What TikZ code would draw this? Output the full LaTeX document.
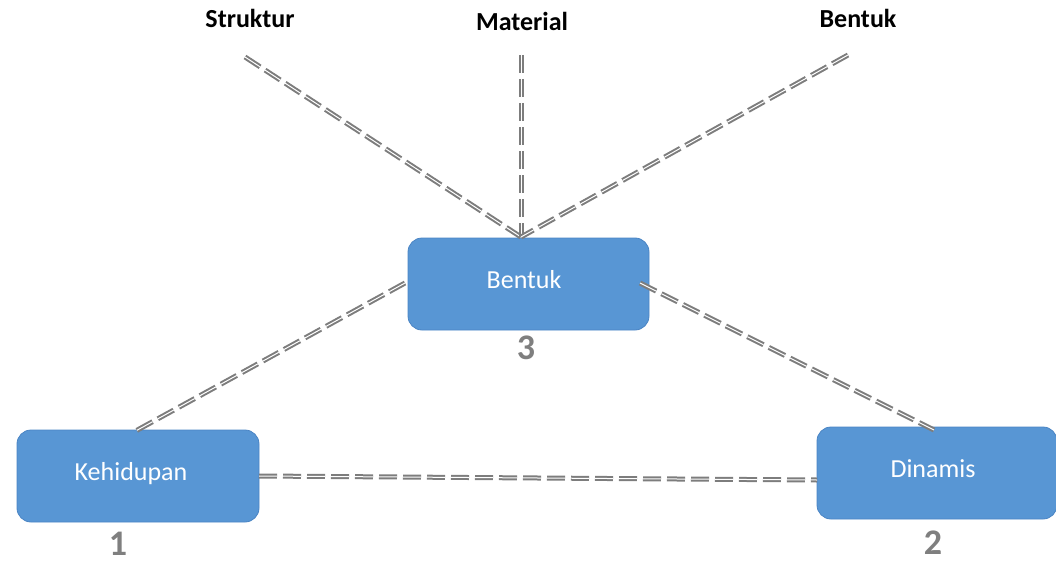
\documentclass[tikz,border=0pt]{standalone}
\usepackage{fontspec}
\setmainfont{Carlito}
\definecolor{boxblue}{RGB}{88,150,212}
\definecolor{boxedge}{RGB}{74,132,196}
\definecolor{linegray}{RGB}{125,125,125}
\definecolor{numgray}{RGB}{127,127,127}
\begin{document}
\begin{tikzpicture}[x=1pt,y=-1pt,
  conceptbox/.style={draw=boxedge, line width=0.8pt, fill=boxblue, rounded corners=14pt,
    minimum height=92pt, inner sep=0pt},
  boxtext/.style={text=white, font=\fontsize{26}{26}\selectfont, anchor=base},
  toplabel/.style={font=\bfseries\fontsize{26}{26}\selectfont, anchor=base, text=black},
  numlabel/.style={font=\bfseries\fontsize{36}{36}\selectfont, anchor=base, text=numgray,
    inner sep=0pt},
  link/.style={draw=linegray, double=white, double distance=1pt, line width=2pt,
    dash pattern=on 18pt off 6pt}]
\useasboundingbox (0,0) rectangle (1056,564);

% concept boxes
\node[conceptbox, minimum width=241pt] (b3) at (528.5,284) {};
\node[conceptbox, minimum width=242pt] (b1) at (138,476) {};
\node[conceptbox, minimum width=240pt] (b2) at (937,473) {};

% box captions
\node[boxtext] (t3) at (524,288) {Bentuk};
\node[boxtext] (t1) at (131,480) {Kehidupan};
\node[boxtext] (t2) at (933,477) {Dinamis};

% numbers under the boxes
\node[numlabel] (n3) at (526,359) {3};
\node[numlabel] (n1) at (118,555) {1};
\node[numlabel] (n2) at (933,554) {2};

% top labels
\node[toplabel] (ls) at (250,28) {Struktur};
\node[toplabel] (lm) at (522,31) {Material};
\node[toplabel] (lb) at (858,28) {Bentuk};

% free ends of the top connectors and the point where they meet
\coordinate (hub) at (521,237);
\coordinate (es) at (245,57);
\coordinate (em) at (521,55);
\coordinate (eb) at (848,55);

\draw[link] (es) -- (hub);
\draw[link] (em) -- (hub);
\draw[link] (eb) -- (hub);

% connectors between the boxes
\coordinate (b3w) at (405,283);
\coordinate (b1n) at (132,433);
\coordinate (b3e) at (640,283);
\coordinate (b2n) at (934,430);
\coordinate (b1e) at (259,476);
\coordinate (b2w) at (817,480);
\draw[link] (b3w) -- (b1n);
\draw[link] (b3e) -- (b2n);
\draw[link] (b1e) -- (b2w);
\end{tikzpicture}
\end{document}
